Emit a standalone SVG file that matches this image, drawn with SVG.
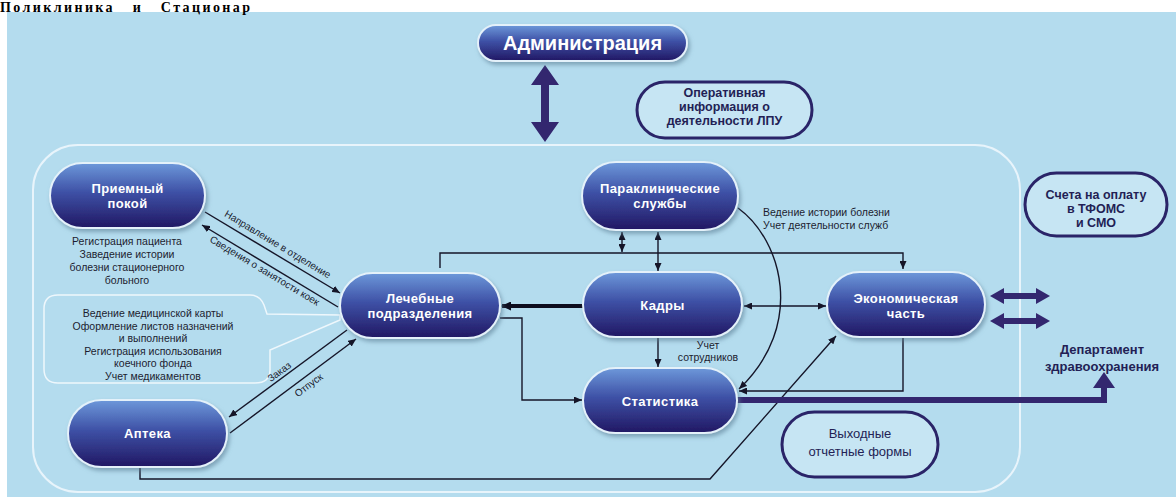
<svg xmlns="http://www.w3.org/2000/svg" width="1176" height="497" viewBox="0 0 1176 497">
<style>
.node{stroke:#e4f1fa;stroke-width:2;fill:url(#ng);filter:url(#sh)}
.nt{font-family:"Liberation Sans",Arial,sans-serif;font-weight:bold;font-size:13px;letter-spacing:0.4px;fill:#ffffff;text-anchor:middle}
.out{fill:#c6e5f3;stroke:#2a2468;stroke-width:3}
.ot{font-family:"Liberation Sans",Arial,sans-serif;font-weight:bold;font-size:12.5px;fill:#231f55;text-anchor:middle}
.st{font-family:"Liberation Sans",Arial,sans-serif;font-size:10.5px;fill:#1c1c30;text-anchor:middle}
.sl{font-family:"Liberation Sans",Arial,sans-serif;font-size:10.5px;fill:#1c1c30;text-anchor:start}
.lb{font-family:"Liberation Sans",Arial,sans-serif;font-size:10px;fill:#1c1c30;text-anchor:middle}
.c{stroke:#151528;stroke-width:1.4;fill:none}
.ce{marker-end:url(#ah)}
.cs{marker-start:url(#ah)}
.big{fill:#33276f}
</style>
<defs>
<linearGradient id="ng" x1="0" y1="0" x2="0" y2="1">
<stop offset="0" stop-color="#6d98da"/>
<stop offset="0.45" stop-color="#3e51a6"/>
<stop offset="1" stop-color="#211763"/>
</linearGradient>
<filter id="sh" x="-10%" y="-20%" width="125%" height="150%">
<feDropShadow dx="2" dy="3" stdDeviation="2" flood-color="#5b7f95" flood-opacity="0.6"/>
</filter>
<marker id="ah" viewBox="0 0 8 7" refX="8" refY="3.5" markerWidth="8" markerHeight="7" markerUnits="userSpaceOnUse" orient="auto-start-reverse">
<path d="M0,0 L8,3.5 L0,7 z" fill="#151528"/>
</marker>
<marker id="ahb" viewBox="0 0 10 9" refX="9" refY="4.5" markerWidth="10" markerHeight="9" markerUnits="userSpaceOnUse" orient="auto">
<path d="M0,0 L10,4.5 L0,9 z" fill="#0d0d1e"/>
</marker>
</defs>

<rect x="0" y="0" width="1176" height="497" fill="#ffffff"/>
<rect x="7" y="12" width="1169" height="485" fill="#b4dcee"/>
<text x="0" y="12" font-family="'Liberation Serif','Times New Roman',serif" font-weight="bold" font-size="14" fill="#000000" textLength="250" lengthAdjust="spacing" xml:space="preserve">Поликлиника   и   Стационар</text>
<rect x="33" y="145" width="987" height="347" rx="45" fill="none" stroke="#e8f4fb" stroke-width="2"/>

<g id="callout">
<path d="M58,295 H250 Q260,295 264,305 L267,314 L340,315 L340,320 L270,350 L270,370 Q270,383 255,383 H58 Q44,383 44,369 V309 Q44,295 58,295 Z" fill="none" stroke="#eef7fc" stroke-width="1.5"/>
<text class="st" x="153" y="317">Ведение медицинской карты</text>
<text class="st" x="153" y="329.5">Оформление листов назначений</text>
<text class="st" x="153" y="342">и выполнений</text>
<text class="st" x="153" y="354.5">Регистрация использования</text>
<text class="st" x="153" y="367">коечного фонда</text>
<text class="st" x="153" y="379.5">Учет медикаментов</text>
</g>

<g id="connectors">
<line class="c ce" x1="205" y1="212" x2="340" y2="293"/>
<line class="c ce" x1="338" y1="307" x2="202" y2="225"/>
<line class="c ce" x1="347" y1="330" x2="229" y2="417"/>
<line class="c ce" x1="230" y1="433" x2="356" y2="339"/>
<line x1="583" y1="306" x2="502" y2="306" stroke="#0d0d1e" stroke-width="4" marker-end="url(#ahb)"/>
<polyline class="c ce" points="440,268 440,253 903,253 903,269"/>
<line class="c ce cs" x1="622" y1="232" x2="622" y2="252"/>
<line class="c ce cs" x1="658" y1="232" x2="658" y2="271"/>
<line class="c ce cs" x1="744" y1="306" x2="826" y2="306"/>
<line class="c ce" x1="658" y1="338" x2="658" y2="367"/>
<path class="c ce" d="M738,208 C782,240 806,325 739,389"/>
<polyline class="c ce" points="903,338 903,391 739,391"/>
<polyline class="c ce" points="500,318 522,318 522,400 582,400"/>
<polyline class="c ce" points="140,467 140,479 710,479 836,336"/>
<polyline points="737,400 1104,400 1104,386" fill="none" stroke="#33276f" stroke-width="6"/>
<polygon class="big" points="1104,372 1115,388 1093,388"/>
<polygon class="big" points="545,65 559,85 549,85 549,122 559,122 545,142 531,122 541,122 541,85 531,85"/>
<polygon class="big" points="990,296 1004,288 1004,293 1036,293 1036,288 1050,296 1036,304 1036,299 1004,299 1004,304"/>
<polygon class="big" points="990,321 1004,313 1004,318 1036,318 1036,313 1050,321 1036,329 1036,324 1004,324 1004,329"/>
<text class="lb" transform="translate(275,249) rotate(31)" x="0" y="-2">Направление в отделение</text>
<text class="lb" transform="translate(268,265) rotate(31)" x="0" y="10">Сведения о занятости коек</text>
<text class="lb" transform="translate(283,377) rotate(-36)" x="0" y="-3">Заказ</text>
<text class="lb" transform="translate(304,379) rotate(-36.6)" x="0" y="11">Отпуск</text>
</g>

<g id="admin">
<rect class="node" x="478" y="25" width="209" height="36" rx="18"/>
<text class="nt" x="582.5" y="50" style="font-size:20px;letter-spacing:0">Администрация</text>
</g>
<g id="oper">
<rect class="out" x="637" y="82" width="175" height="56" rx="28"/>
<text class="ot" x="724.5" y="97">Оперативная</text>
<text class="ot" x="724.5" y="111">информация о</text>
<text class="ot" x="724.5" y="125">деятельности ЛПУ</text>
</g>
<g id="priem">
<rect class="node" x="50" y="163" width="155" height="65" rx="32.5"/>
<text class="nt" x="127.5" y="193">Приемный</text>
<text class="nt" x="127.5" y="208">покой</text>
<text class="st" x="127" y="245">Регистрация пациента</text>
<text class="st" x="127" y="258">Заведение истории</text>
<text class="st" x="127" y="271">болезни стационерного</text>
<text class="st" x="127" y="284">больного</text>
</g>
<g id="para">
<rect class="node" x="582" y="162" width="156" height="68" rx="34"/>
<text class="nt" x="660" y="193">Параклинические</text>
<text class="nt" x="660" y="208">службы</text>
<text class="sl" x="763" y="216">Ведение истории болезни</text>
<text class="sl" x="763" y="229">Учет деятельности служб</text>
</g>
<g id="lech">
<rect class="node" x="340" y="273" width="160" height="65" rx="32.5"/>
<text class="nt" x="420" y="303">Лечебные</text>
<text class="nt" x="420" y="318">подразделения</text>
</g>
<g id="kadry">
<rect class="node" x="583" y="272" width="159" height="65" rx="32.5"/>
<text class="nt" x="662.5" y="310">Кадры</text>
<text class="st" x="708" y="349">Учет</text>
<text class="st" x="708" y="361">сотрудников</text>
</g>
<g id="econ">
<rect class="node" x="827" y="272" width="158" height="65" rx="32.5"/>
<text class="nt" x="906" y="303">Экономическая</text>
<text class="nt" x="906" y="318">часть</text>
</g>
<g id="scheta">
<rect class="out" x="1025" y="173" width="142" height="63" rx="31.5"/>
<text class="ot" x="1096" y="199">Счета на оплату</text>
<text class="ot" x="1096" y="213">в ТФОМС</text>
<text class="ot" x="1096" y="227">и СМО</text>
</g>
<g id="dept">
<text class="ot" x="1102" y="354" style="font-size:13px">Департамент</text>
<text class="ot" x="1102" y="371" style="font-size:13px">здравоохранения</text>
</g>
<g id="stat">
<rect class="node" x="583" y="368" width="154" height="65" rx="32.5"/>
<text class="nt" x="660" y="406">Статистика</text>
</g>
<g id="apteka">
<rect class="node" x="68" y="400" width="159" height="67" rx="33.5"/>
<text class="nt" x="147.5" y="438">Аптека</text>
</g>
<g id="vyhod">
<rect class="out" x="782" y="412" width="156" height="65" rx="32.5"/>
<text class="ot" x="860" y="438" style="font-weight:normal;font-size:13px">Выходные</text>
<text class="ot" x="860" y="456" style="font-weight:normal;font-size:13px">отчетные формы</text>
</g>
</svg>
